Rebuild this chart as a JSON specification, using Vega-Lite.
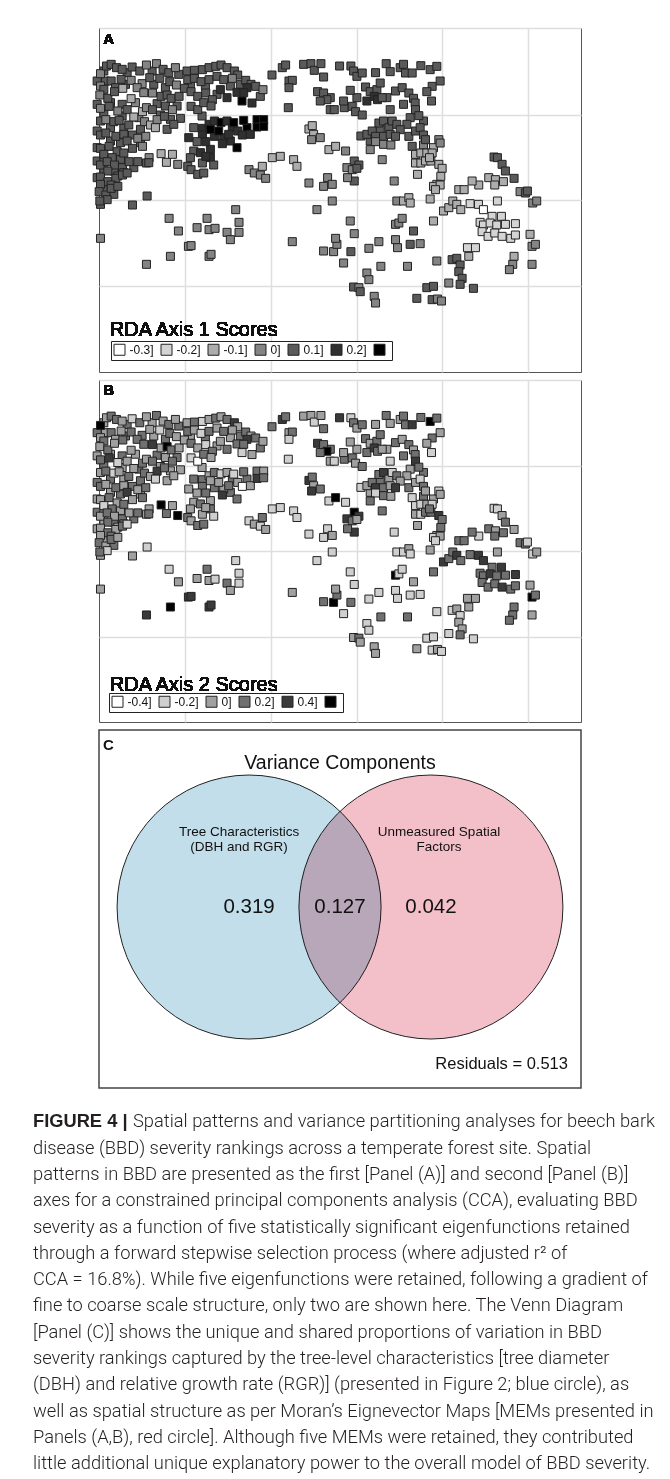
{
"$schema": "https://vega.github.io/schema/vega-lite/v6.json",
"background": "white",
"padding": {"left": 31, "top": 27, "right": 0, "bottom": 0},
"spacing": 8,
"center": true,
"bounds": "flush",
"resolve": {"scale": {"x": "independent", "y": "independent", "color": "independent", "fill": "independent"}, "legend": {"color": "independent"}},
"config": {"view": {"stroke": "#555", "strokeWidth": 1}, "font": "Liberation Sans"},
"datasets": {
"trees": [
{"x":20,"y":180,"a":0.1,"b":0.2},{"x":20,"y":250,"a":0.1,"b":0},{"x":20,"y":330,"a":0.1,"b":0.2},{"x":20,"y":380,"a":0.1,"b":0},{"x":20,"y":420,"a":0.1,"b":0.2},{"x":20,"y":470,"a":0.1,"b":0},
{"x":40,"y":150,"a":0.1,"b":0},{"x":110,"y":155,"a":0.1,"b":0.2},{"x":185,"y":150,"a":0.1,"b":0},{"x":265,"y":160,"a":0.1,"b":0.2},{"x":45,"y":180,"a":0.1,"b":0},{"x":105,"y":190,"a":0.1,"b":0.2},{"x":190,"y":190,"a":0.1,"b":0},{"x":225,"y":200,"a":0.1,"b":0.2},{"x":60,"y":245,"a":0.1,"b":0},{"x":95,"y":250,"a":0.1,"b":0.2},{"x":135,"y":245,"a":0,"b":0},{"x":200,"y":248,"a":0.1,"b":0.2},{"x":225,"y":255,"a":0.1,"b":0},{"x":260,"y":255,"a":0.1,"b":0.2},
{"x":40,"y":280,"a":0.1,"b":0.2},{"x":95,"y":285,"a":0.1,"b":0},{"x":145,"y":290,"a":0,"b":0.2},{"x":240,"y":295,"a":0.1,"b":0},{"x":60,"y":320,"a":0.1,"b":0.2},{"x":100,"y":320,"a":0.1,"b":0},{"x":150,"y":325,"a":0.1,"b":0.2},{"x":230,"y":325,"a":0.1,"b":0},{"x":60,"y":360,"a":0.1,"b":0},{"x":90,"y":365,"a":0.1,"b":0.2},{"x":150,"y":365,"a":0.1,"b":0},{"x":40,"y":415,"a":0.1,"b":0.2},{"x":90,"y":415,"a":0.1,"b":0},{"x":130,"y":440,"a":0.1,"b":0.2},{"x":40,"y":445,"a":0.1,"b":0},{"x":70,"y":450,"a":0.1,"b":0.2},{"x":40,"y":505,"a":0.1,"b":0},{"x":70,"y":520,"a":0.1,"b":0.2},
{"x":30,"y":158,"a":0,"b":0.6},{"x":48,"y":135,"a":0.1,"b":0},{"x":62,"y":130,"a":0.1,"b":0.2},{"x":78,"y":140,"a":0.1,"b":0.2},{"x":95,"y":145,"a":0.1,"b":0},{"x":125,"y":138,"a":0.1,"b":-0.2},{"x":148,"y":150,"a":0.1,"b":0.2},{"x":168,"y":132,"a":0,"b":0},{"x":198,"y":128,"a":0,"b":0.2},{"x":218,"y":145,"a":0.1,"b":0},{"x":235,"y":155,"a":0.1,"b":0.2},{"x":255,"y":140,"a":0,"b":0},
{"x":30,"y":195,"a":0,"b":0},{"x":62,"y":180,"a":0.1,"b":0.2},{"x":92,"y":175,"a":0.1,"b":0},{"x":122,"y":178,"a":0,"b":0.2},{"x":155,"y":188,"a":0,"b":0.2},{"x":178,"y":170,"a":0.1,"b":0},{"x":208,"y":172,"a":0.1,"b":-0.2},{"x":238,"y":182,"a":0.1,"b":0.2},{"x":258,"y":192,"a":0,"b":0},{"x":40,"y":205,"a":0.1,"b":0.2},{"x":75,"y":200,"a":0.1,"b":0},{"x":140,"y":200,"a":0,"b":0.2},
{"x":28,"y":222,"a":0,"b":0},{"x":52,"y":232,"a":0.1,"b":0.2},{"x":72,"y":212,"a":0.1,"b":0},{"x":97,"y":202,"a":-0.1,"b":0.2},{"x":122,"y":233,"a":-0.1,"b":0},{"x":160,"y":215,"a":0,"b":0.2},{"x":186,"y":216,"a":0,"b":0.4},{"x":212,"y":226,"a":0.1,"b":0},{"x":230,"y":222,"a":0.1,"b":0.6},{"x":242,"y":232,"a":0.1,"b":0.2},{"x":266,"y":226,"a":0.1,"b":0},
{"x":30,"y":262,"a":0,"b":0.2},{"x":56,"y":256,"a":0.1,"b":0.4},{"x":82,"y":270,"a":0,"b":-0.2},{"x":110,"y":266,"a":0.1,"b":0},{"x":156,"y":272,"a":-0.1,"b":0.2},{"x":168,"y":260,"a":0,"b":0},{"x":186,"y":266,"a":0.1,"b":0.2},{"x":210,"y":282,"a":0.1,"b":0},{"x":246,"y":266,"a":0,"b":0.2},{"x":270,"y":292,"a":0.1,"b":0},
{"x":30,"y":300,"a":0.1,"b":0},{"x":46,"y":296,"a":0,"b":0.2},{"x":70,"y":302,"a":0.1,"b":-0.2},{"x":86,"y":298,"a":0.1,"b":0},{"x":115,"y":312,"a":0.1,"b":0.2},{"x":130,"y":288,"a":-0.1,"b":0},{"x":162,"y":302,"a":0,"b":0.2},{"x":180,"y":312,"a":-0.1,"b":0},{"x":200,"y":296,"a":0,"b":0.4},{"x":222,"y":286,"a":0.1,"b":0.2},{"x":250,"y":310,"a":0.1,"b":0},{"x":195,"y":320,"a":-0.1,"b":-0.2},
{"x":30,"y":342,"a":0.1,"b":0.2},{"x":46,"y":336,"a":0.1,"b":0},{"x":76,"y":346,"a":0.1,"b":0.2},{"x":100,"y":340,"a":0.1,"b":0},{"x":126,"y":342,"a":0.1,"b":0.2},{"x":142,"y":352,"a":0,"b":0},{"x":166,"y":346,"a":0,"b":0.2},{"x":110,"y":360,"a":0.1,"b":0.4},
{"x":30,"y":382,"a":0.1,"b":0},{"x":56,"y":376,"a":0.1,"b":0.2},{"x":80,"y":392,"a":0.1,"b":0},{"x":100,"y":396,"a":0.1,"b":0.2},{"x":126,"y":382,"a":0.1,"b":0},{"x":156,"y":376,"a":0,"b":0.2},{"x":176,"y":410,"a":0,"b":0},{"x":40,"y":400,"a":0.1,"b":-0.2},{"x":65,"y":410,"a":0.1,"b":0.2},
{"x":30,"y":432,"a":0.1,"b":0},{"x":50,"y":422,"a":0.1,"b":0.2},{"x":72,"y":432,"a":0.1,"b":0},{"x":96,"y":440,"a":0.1,"b":0.2},{"x":116,"y":422,"a":0.1,"b":0},{"x":142,"y":422,"a":0.1,"b":0.2},{"x":168,"y":426,"a":0.1,"b":0},{"x":100,"y":455,"a":0.1,"b":0.2},{"x":82,"y":465,"a":0.1,"b":0},{"x":52,"y":450,"a":0.1,"b":0.2},
{"x":30,"y":468,"a":0.1,"b":0},{"x":52,"y":482,"a":0.1,"b":0.2},{"x":76,"y":472,"a":0.1,"b":0},{"x":96,"y":462,"a":0.1,"b":0.2},{"x":110,"y":456,"a":0.1,"b":-0.2},{"x":30,"y":490,"a":0.1,"b":0},{"x":62,"y":492,"a":0.1,"b":0.2},
{"x":26,"y":512,"a":0.1,"b":0.2},{"x":46,"y":522,"a":0.1,"b":0},{"x":62,"y":502,"a":0.1,"b":0.2},{"x":82,"y":496,"a":0.1,"b":0},{"x":30,"y":550,"a":0.1,"b":0},{"x":50,"y":536,"a":0.1,"b":-0.2},{"x":28,"y":540,"a":0.1,"b":0.2},
{"x":170,"y":525,"a":0.1,"b":-0.2},{"x":126,"y":552,"a":0.1,"b":0},{"x":30,"y":652,"a":0,"b":0},
{"x":212,"y":398,"a":-0.1,"b":0.6},{"x":228,"y":424,"a":-0.1,"b":0.2},{"x":246,"y":400,"a":-0.1,"b":0},{"x":262,"y":430,"a":0,"b":0.6},{"x":175,"y":425,"a":0.1,"b":0.2},
{"x":300,"y":190,"a":0.1,"b":0},{"x":345,"y":195,"a":0.1,"b":0.2},{"x":420,"y":195,"a":0.1,"b":0},{"x":450,"y":190,"a":0.1,"b":0.2},{"x":380,"y":220,"a":0.1,"b":0},{"x":410,"y":230,"a":0.2,"b":0.2},{"x":335,"y":285,"a":0.1,"b":0},{"x":470,"y":320,"a":0.3,"b":0.2},{"x":480,"y":340,"a":0.2,"b":0},{"x":310,"y":320,"a":0.1,"b":0.2},{"x":310,"y":390,"a":0.1,"b":0},{"x":330,"y":395,"a":0.2,"b":0.2},{"x":360,"y":385,"a":0.2,"b":0},{"x":420,"y":360,"a":0.2,"b":0.2},
{"x":290,"y":150,"a":0.1,"b":0},{"x":312,"y":148,"a":0.1,"b":0.2},{"x":336,"y":146,"a":0.1,"b":-0.2},{"x":356,"y":140,"a":0.1,"b":0},{"x":376,"y":136,"a":0.1,"b":0.2},{"x":392,"y":132,"a":0.1,"b":0},{"x":410,"y":140,"a":0.1,"b":0.2},{"x":432,"y":150,"a":0.1,"b":0.4},{"x":442,"y":162,"a":0.1,"b":0},
{"x":292,"y":176,"a":0.1,"b":0.2},{"x":312,"y":172,"a":0.1,"b":0},{"x":332,"y":182,"a":0.1,"b":-0.2},{"x":356,"y":176,"a":0.1,"b":0.2},{"x":380,"y":166,"a":0.1,"b":0},{"x":400,"y":176,"a":0.1,"b":0.2},{"x":426,"y":172,"a":0,"b":0},{"x":466,"y":178,"a":0.1,"b":0.2},{"x":482,"y":190,"a":0.1,"b":0},{"x":496,"y":196,"a":0.1,"b":0.2},
{"x":282,"y":202,"a":0.1,"b":0},{"x":302,"y":212,"a":0.1,"b":0.2},{"x":322,"y":226,"a":0.1,"b":0},{"x":346,"y":216,"a":0.1,"b":-0.2},{"x":366,"y":236,"a":0.1,"b":0.2},{"x":390,"y":206,"a":0.2,"b":0},{"x":440,"y":214,"a":0.2,"b":0.2},{"x":455,"y":240,"a":0.3,"b":-0.2},{"x":485,"y":246,"a":0.2,"b":0},{"x":510,"y":226,"a":0.1,"b":0.2},{"x":518,"y":206,"a":0,"b":0},
{"x":302,"y":256,"a":0.1,"b":-0.2},{"x":322,"y":266,"a":0.1,"b":-0.4},{"x":340,"y":245,"a":0.1,"b":0.2},{"x":362,"y":255,"a":0.1,"b":0},{"x":470,"y":200,"a":0.2,"b":0.4},{"x":460,"y":215,"a":0.2,"b":0.2},
{"x":295,"y":350,"a":0.2,"b":0},{"x":336,"y":322,"a":0.2,"b":0.2},{"x":356,"y":310,"a":0.2,"b":0},{"x":372,"y":300,"a":0.2,"b":0.2},{"x":392,"y":304,"a":0.3,"b":-0.2},{"x":410,"y":300,"a":0.2,"b":0},{"x":426,"y":320,"a":0.2,"b":0.2},{"x":442,"y":330,"a":0.2,"b":0},{"x":460,"y":298,"a":0.3,"b":0.2},{"x":456,"y":342,"a":0.2,"b":-0.4},
{"x":372,"y":346,"a":0.2,"b":0.2},{"x":400,"y":350,"a":0.2,"b":0},{"x":336,"y":342,"a":0.2,"b":0.2},{"x":320,"y":362,"a":0.1,"b":0},{"x":346,"y":362,"a":0.2,"b":0.2},{"x":396,"y":368,"a":0.2,"b":0.4},{"x":440,"y":380,"a":0.3,"b":0.2},{"x":500,"y":296,"a":0.3,"b":0.2},{"x":520,"y":296,"a":0.3,"b":0},{"x":500,"y":318,"a":0.3,"b":0.4},{"x":520,"y":316,"a":0.3,"b":0.2},
{"x":385,"y":330,"a":0.3,"b":0},{"x":415,"y":340,"a":0.2,"b":0.2},{"x":360,"y":325,"a":0.3,"b":0},{"x":430,"y":305,"a":0.3,"b":-0.2},
{"x":292,"y":436,"a":0.1,"b":0.2},{"x":302,"y":446,"a":0.1,"b":0},{"x":322,"y":460,"a":0.1,"b":0.2},{"x":336,"y":426,"a":0.1,"b":0},{"x":360,"y":410,"a":0.2,"b":0.2},{"x":370,"y":432,"a":0.1,"b":-0.2},{"x":346,"y":406,"a":0.2,"b":0},{"x":340,"y":456,"a":0.1,"b":0.2},{"x":300,"y":410,"a":0.1,"b":0},
{"x":476,"y":446,"a":0,"b":-0.2},{"x":492,"y":456,"a":0,"b":0},{"x":510,"y":462,"a":0,"b":-0.2},{"x":526,"y":472,"a":0,"b":0},{"x":516,"y":436,"a":-0.1,"b":0.2},{"x":546,"y":410,"a":-0.1,"b":-0.2},{"x":570,"y":406,"a":-0.1,"b":-0.2},{"x":610,"y":416,"a":-0.1,"b":-0.2},{"x":620,"y":436,"a":-0.1,"b":-0.2},
{"x":545,"y":162,"a":0.1,"b":0.2},{"x":576,"y":140,"a":0.1,"b":0.4},{"x":586,"y":132,"a":0.1,"b":0.2},{"x":596,"y":180,"a":0.1,"b":0},{"x":606,"y":178,"a":0.1,"b":0.2},{"x":596,"y":200,"a":0.1,"b":-0.2},{"x":594,"y":260,"a":0.1,"b":-0.2},
{"x":640,"y":130,"a":0.1,"b":0},{"x":720,"y":230,"a":0.1,"b":0.2},{"x":800,"y":230,"a":0.1,"b":0},{"x":830,"y":240,"a":0.2,"b":0.2},{"x":890,"y":230,"a":0.1,"b":0},{"x":940,"y":250,"a":0.1,"b":0.2},{"x":960,"y":290,"a":0.1,"b":0},{"x":1000,"y":300,"a":0.1,"b":0.2},{"x":950,"y":310,"a":0.1,"b":0},{"x":870,"y":325,"a":0.1,"b":0.2},{"x":840,"y":360,"a":0.1,"b":0},{"x":1000,"y":372,"a":0,"b":0.2},{"x":1030,"y":380,"a":-0.1,"b":0},
{"x":662,"y":128,"a":0.1,"b":0},{"x":672,"y":148,"a":0.1,"b":-0.2},{"x":692,"y":128,"a":0.1,"b":0},{"x":700,"y":168,"a":0.1,"b":0.2},{"x":748,"y":135,"a":0.1,"b":0.4},{"x":782,"y":135,"a":0.1,"b":-0.2},{"x":790,"y":150,"a":0.1,"b":0.2},{"x":800,"y":166,"a":0.1,"b":0},{"x":816,"y":156,"a":0.1,"b":0.2},{"x":856,"y":155,"a":0.1,"b":0},
{"x":888,"y":128,"a":0.1,"b":0.2},{"x":900,"y":152,"a":0.1,"b":0},{"x":930,"y":140,"a":0.1,"b":0},{"x":940,"y":130,"a":0.1,"b":0.2},{"x":946,"y":156,"a":0.1,"b":0.2},{"x":966,"y":156,"a":0.1,"b":0.4},{"x":992,"y":134,"a":0.1,"b":0.2},{"x":1020,"y":146,"a":0.1,"b":0.6},{"x":1040,"y":136,"a":0.1,"b":0.2},{"x":1050,"y":180,"a":0.1,"b":0},{"x":1026,"y":196,"a":0.1,"b":0.2},{"x":1010,"y":212,"a":0.1,"b":0},{"x":1024,"y":240,"a":0.1,"b":-0.2},
{"x":682,"y":212,"a":0.1,"b":0.4},{"x":700,"y":216,"a":0.1,"b":0.2},{"x":710,"y":236,"a":0.1,"b":0.6},{"x":690,"y":240,"a":0.1,"b":0.2},{"x":720,"y":266,"a":0.1,"b":0},{"x":732,"y":266,"a":0.1,"b":-0.2},{"x":762,"y":260,"a":0.1,"b":0.2},{"x":760,"y":240,"a":0.1,"b":0},{"x":786,"y":256,"a":0.1,"b":0.2},{"x":796,"y":272,"a":0.1,"b":0},{"x":816,"y":282,"a":0.1,"b":0.2},
{"x":780,"y":208,"a":0.1,"b":0},{"x":826,"y":198,"a":0.1,"b":0.2},{"x":840,"y":212,"a":0.1,"b":0},{"x":860,"y":206,"a":0.1,"b":0.2},{"x":870,"y":186,"a":0.1,"b":0.2},{"x":852,"y":226,"a":0.2,"b":0.4},{"x":862,"y":236,"a":0.2,"b":0.2},{"x":876,"y":230,"a":0.1,"b":0},{"x":900,"y":266,"a":0.1,"b":-0.2},{"x":916,"y":210,"a":0.1,"b":0.2},{"x":936,"y":200,"a":0.1,"b":0},{"x":956,"y":216,"a":0.1,"b":0.2},{"x":970,"y":232,"a":0.1,"b":0},{"x":975,"y":246,"a":0.1,"b":0.2},{"x":976,"y":266,"a":0.1,"b":0.4},{"x":986,"y":284,"a":0.1,"b":0.2},
{"x":656,"y":324,"a":-0.1,"b":0.4},{"x":666,"y":314,"a":-0.1,"b":0.2},{"x":670,"y":340,"a":-0.1,"b":0},{"x":690,"y":350,"a":0,"b":0.2},{"x":664,"y":356,"a":0,"b":0.4},
{"x":812,"y":345,"a":0.1,"b":-0.2},{"x":830,"y":340,"a":0.1,"b":0},{"x":846,"y":330,"a":0.1,"b":0.2},{"x":866,"y":306,"a":0.1,"b":0.2},{"x":880,"y":300,"a":0.1,"b":0.4},{"x":896,"y":320,"a":0.1,"b":0},{"x":906,"y":300,"a":0.1,"b":-0.2},{"x":920,"y":310,"a":0.1,"b":0.2},{"x":930,"y":326,"a":0.1,"b":0},{"x":856,"y":346,"a":0.1,"b":0.4},{"x":880,"y":346,"a":0.1,"b":0.2},{"x":900,"y":340,"a":0.1,"b":0},{"x":916,"y":346,"a":0.1,"b":0.4},
{"x":956,"y":346,"a":0.1,"b":0.2},{"x":976,"y":330,"a":0.1,"b":0},{"x":990,"y":320,"a":0.1,"b":-0.2},{"x":966,"y":376,"a":0.1,"b":-0.2},{"x":1000,"y":342,"a":0.1,"b":0.2},{"x":1006,"y":356,"a":0.1,"b":0},{"x":1046,"y":356,"a":0,"b":-0.2},{"x":1050,"y":366,"a":0,"b":0},{"x":856,"y":362,"a":0,"b":-0.2},{"x":880,"y":370,"a":0,"b":0.2},{"x":902,"y":372,"a":0,"b":0},
{"x":716,"y":386,"a":-0.1,"b":-0.2},{"x":736,"y":376,"a":-0.1,"b":0.6},{"x":766,"y":390,"a":0,"b":-0.2},{"x":840,"y":386,"a":0,"b":0.2},{"x":876,"y":416,"a":0,"b":0.2},{"x":792,"y":420,"a":0.1,"b":0.6},{"x":806,"y":432,"a":0.1,"b":0.4},{"x":770,"y":440,"a":0,"b":0.4},{"x":786,"y":446,"a":0,"b":0.2},{"x":800,"y":442,"a":0.1,"b":0},{"x":792,"y":480,"a":0.1,"b":0.4},{"x":772,"y":470,"a":0,"b":0.2},{"x":712,"y":470,"a":0,"b":-0.2},{"x":700,"y":496,"a":0,"b":-0.2},{"x":726,"y":490,"a":0,"b":0},{"x":656,"y":486,"a":0,"b":-0.2},
{"x":976,"y":400,"a":-0.1,"b":-0.2},{"x":992,"y":396,"a":-0.1,"b":-0.2},{"x":1010,"y":396,"a":-0.1,"b":0},{"x":1026,"y":396,"a":-0.1,"b":-0.2},{"x":976,"y":426,"a":-0.1,"b":0},{"x":992,"y":426,"a":-0.1,"b":-0.2},{"x":1006,"y":420,"a":-0.1,"b":0.2},{"x":1022,"y":420,"a":-0.1,"b":0.2},{"x":1018,"y":410,"a":-0.1,"b":0.2},{"x":1046,"y":430,"a":-0.1,"b":0.4},{"x":1056,"y":442,"a":-0.1,"b":0.2},{"x":982,"y":460,"a":-0.1,"b":0},{"x":1052,"y":466,"a":-0.1,"b":0.2},{"x":1040,"y":490,"a":-0.1,"b":0},{"x":1030,"y":496,"a":-0.1,"b":-0.2},{"x":1050,"y":492,"a":-0.1,"b":0},{"x":1036,"y":506,"a":-0.1,"b":-0.2},{"x":912,"y":480,"a":0,"b":-0.2},
{"x":920,"y":540,"a":0,"b":-0.2},{"x":940,"y":540,"a":-0.1,"b":-0.2},{"x":956,"y":530,"a":-0.1,"b":0},{"x":960,"y":546,"a":-0.1,"b":-0.2},{"x":1020,"y":534,"a":-0.1,"b":0},{"x":1060,"y":570,"a":-0.1,"b":0.4},{"x":1076,"y":560,"a":-0.1,"b":0.2},{"x":1088,"y":540,"a":-0.1,"b":0.2},{"x":1100,"y":550,"a":-0.1,"b":0.4},{"x":1112,"y":566,"a":-0.1,"b":0.2},{"x":1106,"y":506,"a":-0.1,"b":0.2},{"x":1122,"y":506,"a":-0.1,"b":0.2},{"x":1140,"y":548,"a":-0.2,"b":0.2},{"x":1165,"y":550,"a":-0.2,"b":0.4},{"x":1180,"y":566,"a":-0.3,"b":0.4},
{"x":680,"y":566,"a":0,"b":-0.2},{"x":726,"y":540,"a":0,"b":-0.2},{"x":780,"y":600,"a":0,"b":-0.2},{"x":792,"y":638,"a":0,"b":-0.2},{"x":916,"y":610,"a":0,"b":0.6},{"x":926,"y":606,"a":0,"b":-0.2},{"x":936,"y":592,"a":0,"b":-0.2},{"x":970,"y":630,"a":0.1,"b":0},{"x":1030,"y":600,"a":-0.1,"b":0.2},
{"x":700,"y":690,"a":0,"b":0.2},{"x":730,"y":692,"a":0,"b":0.6},{"x":740,"y":670,"a":0,"b":0.2},{"x":736,"y":652,"a":0,"b":0},{"x":760,"y":726,"a":0,"b":-0.2},{"x":782,"y":692,"a":0.1,"b":0.2},{"x":836,"y":682,"a":0,"b":-0.2},{"x":866,"y":662,"a":0,"b":-0.2},{"x":916,"y":656,"a":0,"b":-0.2},{"x":922,"y":680,"a":0,"b":-0.2},{"x":960,"y":670,"a":0.1,"b":-0.2},{"x":990,"y":668,"a":0,"b":-0.2},
{"x":830,"y":756,"a":0,"b":-0.2},{"x":836,"y":776,"a":0,"b":-0.2},{"x":790,"y":798,"a":0.1,"b":0},{"x":806,"y":800,"a":0,"b":0.2},{"x":810,"y":812,"a":0.1,"b":0},{"x":852,"y":826,"a":0,"b":0},{"x":856,"y":846,"a":0,"b":0},{"x":872,"y":736,"a":0,"b":0.2},{"x":952,"y":736,"a":0,"b":0.2},{"x":980,"y":832,"a":0.1,"b":0},
{"x":1026,"y":836,"a":0.1,"b":-0.2},{"x":1042,"y":834,"a":0,"b":0},{"x":1054,"y":840,"a":0,"b":-0.2},{"x":1010,"y":800,"a":0.1,"b":-0.2},{"x":1030,"y":796,"a":0.1,"b":-0.2},{"x":1040,"y":720,"a":0,"b":-0.2},{"x":1076,"y":786,"a":0,"b":-0.2},{"x":1086,"y":716,"a":0.1,"b":-0.2},{"x":1100,"y":712,"a":0.1,"b":0},{"x":1110,"y":732,"a":0.1,"b":-0.2},{"x":1106,"y":752,"a":0.1,"b":0},{"x":1116,"y":772,"a":0.1,"b":0},{"x":1110,"y":790,"a":0.1,"b":0.2},{"x":1150,"y":802,"a":0.1,"b":-0.2},{"x":1136,"y":706,"a":-0.1,"b":0},{"x":1156,"y":680,"a":-0.2,"b":0},
{"x":1196,"y":470,"a":-0.1,"b":0.2},{"x":1216,"y":476,"a":-0.1,"b":0},{"x":1214,"y":492,"a":-0.1,"b":0.2},{"x":1222,"y":540,"a":-0.2,"b":0},{"x":1240,"y":482,"a":-0.1,"b":0.2},{"x":1166,"y":492,"a":-0.1,"b":-0.2},{"x":1146,"y":480,"a":-0.1,"b":0.2},
{"x":1206,"y":586,"a":-0.2,"b":0.2},{"x":1234,"y":586,"a":-0.2,"b":0.4},{"x":1170,"y":604,"a":-0.2,"b":0.2},{"x":1180,"y":612,"a":-0.2,"b":0.2},{"x":1200,"y":606,"a":-0.2,"b":0.4},{"x":1220,"y":612,"a":-0.2,"b":0.2},{"x":1246,"y":610,"a":-0.2,"b":0.2},{"x":1276,"y":608,"a":-0.2,"b":0.4},{"x":1176,"y":632,"a":-0.2,"b":0.2},{"x":1194,"y":646,"a":-0.2,"b":0.2},{"x":1214,"y":636,"a":-0.2,"b":0.2},{"x":1236,"y":646,"a":-0.2,"b":0.4},{"x":1262,"y":652,"a":-0.2,"b":0.2},{"x":1276,"y":642,"a":-0.2,"b":0.2},{"x":1320,"y":640,"a":-0.1,"b":0},
{"x":1212,"y":408,"a":0.1,"b":-0.2},{"x":1222,"y":410,"a":0.1,"b":-0.2},{"x":1236,"y":430,"a":0.1,"b":0},{"x":1246,"y":450,"a":0.1,"b":0.2},{"x":1272,"y":472,"a":0.1,"b":0},{"x":1290,"y":512,"a":0,"b":0.2},{"x":1306,"y":516,"a":0.1,"b":0.2},{"x":1312,"y":510,"a":0.1,"b":-0.2},{"x":1328,"y":546,"a":0,"b":-0.2},{"x":1340,"y":540,"a":0,"b":0},{"x":1326,"y":676,"a":0,"b":0.6},{"x":1336,"y":670,"a":0,"b":0.2},{"x":1272,"y":706,"a":-0.1,"b":0.2},{"x":1268,"y":730,"a":0,"b":0.2},{"x":1258,"y":746,"a":0,"b":0.2},{"x":1326,"y":730,"a":0,"b":0},{"x":1132,"y":680,"a":-0.2,"b":0},
{"x":236,"y":592,"a":0,"b":-0.2},{"x":264,"y":630,"a":0,"b":0},{"x":294,"y":676,"a":0,"b":0.4},{"x":302,"y":674,"a":0,"b":0.4},{"x":320,"y":620,"a":0,"b":0},{"x":350,"y":592,"a":0,"b":0.2},{"x":356,"y":626,"a":0,"b":0},{"x":374,"y":622,"a":0,"b":-0.2},{"x":410,"y":634,"a":0,"b":0.2},{"x":420,"y":656,"a":0,"b":0},{"x":436,"y":566,"a":0,"b":-0.2},{"x":446,"y":604,"a":0,"b":-0.2},{"x":446,"y":634,"a":0,"b":-0.2},{"x":240,"y":706,"a":0,"b":0.6},{"x":356,"y":706,"a":0,"b":0.4},{"x":362,"y":700,"a":0,"b":0.4},{"x":168,"y":730,"a":0,"b":0.4},{"x":606,"y":662,"a":0,"b":0}
],
"venn": [
{"set": "Tree Characteristics (DBH and RGR)", "cx": -0.689, "cy": 0, "share": 0.319},
{"set": "Unmeasured Spatial Factors", "cx": 0.689, "cy": 0, "share": 0.042}
],
"vennText": [
{"t": "Tree Characteristics", "x": -0.765, "y": 0.568},
{"t": "(DBH and RGR)", "x": -0.765, "y": 0.455},
{"t": "Unmeasured Spatial", "x": 0.75, "y": 0.568},
{"t": "Factors", "x": 0.75, "y": 0.455}
],
"vennValues": [
{"t": "0.319", "x": -0.689, "y": 0},
{"t": "0.127", "x": 0, "y": 0},
{"t": "0.042", "x": 0.689, "y": 0}
],
"caption": [
{"line": 1, "text": "Spatial patterns and variance partitioning analyses for beech bark"},
{"line": 2, "text": "disease (BBD) severity rankings across a temperate forest site. Spatial"},
{"line": 3, "text": "patterns in BBD are presented as the first [Panel (A)] and second [Panel (B)]"},
{"line": 4, "text": "axes for a constrained principal components analysis (CCA), evaluating BBD"},
{"line": 5, "text": "severity as a function of five statistically significant eigenfunctions retained"},
{"line": 6, "text": "through a forward stepwise selection process (where adjusted r² of"},
{"line": 7, "text": "CCA = 16.8%). While five eigenfunctions were retained, following a gradient of"},
{"line": 8, "text": "fine to coarse scale structure, only two are shown here. The Venn Diagram"},
{"line": 9, "text": "[Panel (C)] shows the unique and shared proportions of variation in BBD"},
{"line": 10, "text": "severity rankings captured by the tree-level characteristics [tree diameter"},
{"line": 11, "text": "(DBH) and relative growth rate (RGR)] (presented in Figure 2; blue circle), as"},
{"line": 12, "text": "well as spatial structure as per Moran’s Eignevector Maps [MEMs presented in"},
{"line": 13, "text": "Panels (A,B), red circle]. Although five MEMs were retained, they contributed"},
{"line": 14, "text": "little additional unique explanatory power to the overall model of BBD severity."}
]
},
"vconcat": [
{
"width": 482, "height": 344,
"data": {"name": "trees"},
"layer": [
{"mark": {"type": "square", "size": 64, "stroke": "#222", "strokeWidth": 1, "opacity": 1},
 "encoding": {
  "x": {"field": "x", "type": "quantitative", "scale": {"domain": [25.5, 1473], "nice": false, "zero": false}, "axis": {"values": [284, 541, 799, 1057, 1314], "labels": false, "ticks": false, "domain": false, "title": null, "grid": true, "gridColor": "#dedede", "gridWidth": 1.5}},
  "y": {"field": "y", "type": "quantitative", "scale": {"domain": [21, 1053], "reverse": true, "nice": false, "zero": false}, "axis": {"values": [21, 282, 538, 795], "labels": false, "ticks": false, "domain": false, "title": null, "grid": true, "gridColor": "#dedede", "gridWidth": 1.5}},
  "color": {"field": "a", "type": "ordinal", "scale": {"domain": [-0.3, -0.2, -0.1, 0, 0.1, 0.2, 0.3], "range": ["#ffffff", "#d4d4d4", "#acacac", "#848484", "#5a5a5a", "#303030", "#000000"]},
   "legend": {"title": null, "orient": "bottom-left", "offset": 12, "direction": "horizontal", "symbolType": "square", "symbolSize": 121, "symbolStrokeColor": "#222", "symbolStrokeWidth": 1, "symbolOpacity": 1, "labelFont": "Liberation Sans", "labelFontSize": 12, "labelColor": "#111", "labelOffset": 4, "columnPadding": 4, "padding": 2.5, "strokeColor": "#222", "fillColor": "#ffffff", "labelExpr": "datum.value > 0.25 ? '' : datum.label + ']'"}}
 }},
{"mark": {"type": "text", "align": "left", "baseline": "middle", "fontSize": 20, "color": "#111"},
 "encoding": {"x": {"datum": 58}, "y": {"datum": 926}, "text": {"value": "RDA Axis 1 Scores"}}},
{"mark": {"type": "text", "align": "left", "baseline": "middle", "fontSize": 15, "fontWeight": "bold", "color": "#111"},
 "encoding": {"x": {"datum": 38}, "y": {"datum": 55}, "text": {"value": "A"}}}
]
},
{
"width": 482, "height": 342,
"data": {"name": "trees"},
"layer": [
{"mark": {"type": "square", "size": 64, "stroke": "#222", "strokeWidth": 1, "opacity": 1},
 "encoding": {
  "x": {"field": "x", "type": "quantitative", "scale": {"domain": [25.5, 1473], "nice": false, "zero": false}, "axis": {"values": [284, 541, 799, 1057, 1314], "labels": false, "ticks": false, "domain": false, "title": null, "grid": true, "gridColor": "#dedede", "gridWidth": 1.5}},
  "y": {"field": "y", "type": "quantitative", "scale": {"domain": [21, 1053], "reverse": true, "nice": false, "zero": false}, "axis": {"values": [21, 282, 538, 795], "labels": false, "ticks": false, "domain": false, "title": null, "grid": true, "gridColor": "#dedede", "gridWidth": 1.5}},
  "color": {"field": "b", "type": "ordinal", "scale": {"domain": [-0.4, -0.2, 0, 0.2, 0.4, 0.6], "range": ["#ffffff", "#cfcfcf", "#a0a0a0", "#707070", "#3a3a3a", "#000000"]},
   "legend": {"title": null, "orient": "bottom-left", "offset": 10, "direction": "horizontal", "symbolType": "square", "symbolSize": 121, "symbolStrokeColor": "#222", "symbolStrokeWidth": 1, "symbolOpacity": 1, "labelFont": "Liberation Sans", "labelFontSize": 12, "labelColor": "#111", "labelOffset": 4, "columnPadding": 4, "padding": 2.5, "strokeColor": "#222", "fillColor": "#ffffff", "labelExpr": "datum.value > 0.5 ? '' : datum.label + ']'"}}
 }},
{"mark": {"type": "text", "align": "left", "baseline": "middle", "fontSize": 20, "color": "#111"},
 "encoding": {"x": {"datum": 58}, "y": {"datum": 942}, "text": {"value": "RDA Axis 2 Scores"}}},
{"mark": {"type": "text", "align": "left", "baseline": "middle", "fontSize": 15, "fontWeight": "bold", "color": "#111"},
 "encoding": {"x": {"datum": 38}, "y": {"datum": 50}, "text": {"value": "B"}}}
]
},
{
"width": 482, "height": 358,
"view": {"stroke": "#444", "strokeWidth": 1.5},
"encoding": {
 "x": {"type": "quantitative", "scale": {"domain": [-1.826, 1.826], "nice": false, "zero": false}, "axis": null},
 "y": {"type": "quantitative", "scale": {"domain": [-1.371, 1.341], "nice": false, "zero": false}, "axis": null}
},
"layer": [
{"data": {"name": "venn"},
 "mark": {"type": "point", "shape": "circle", "filled": true, "size": 69696, "stroke": "#222", "strokeWidth": 1, "opacity": 1, "blend": "multiply"},
 "encoding": {"x": {"field": "cx", "type": "quantitative"}, "y": {"field": "cy", "type": "quantitative"},
  "fill": {"field": "set", "type": "nominal", "scale": {"domain": ["Tree Characteristics (DBH and RGR)", "Unmeasured Spatial Factors"], "range": ["#c1deea", "#f3c0ca"]}, "legend": null}}},
{"data": {"name": "vennText"},
 "mark": {"type": "text", "align": "center", "baseline": "middle", "fontSize": 13.5, "color": "#111"},
 "encoding": {"x": {"field": "x", "type": "quantitative"}, "y": {"field": "y", "type": "quantitative"}, "text": {"field": "t"}}},
{"data": {"name": "vennValues"},
 "mark": {"type": "text", "align": "center", "baseline": "middle", "fontSize": 20.5, "color": "#111"},
 "encoding": {"x": {"field": "x", "type": "quantitative"}, "y": {"field": "y", "type": "quantitative"}, "text": {"field": "t"}}},
{"data": {"values": [{}]},
 "mark": {"type": "text", "align": "center", "baseline": "middle", "fontSize": 19.5, "color": "#111"},
 "encoding": {"x": {"datum": 0}, "y": {"datum": 1.09}, "text": {"value": "Variance Components"}}},
{"data": {"values": [{}]},
 "mark": {"type": "text", "align": "right", "baseline": "middle", "fontSize": 16.5, "color": "#111"},
 "encoding": {"x": {"datum": 1.727}, "y": {"datum": -1.19}, "text": {"value": "Residuals = 0.513"}}},
{"data": {"values": [{}]},
 "mark": {"type": "text", "align": "left", "baseline": "middle", "fontSize": 15, "fontWeight": "bold", "color": "#111"},
 "encoding": {"x": {"datum": -1.795}, "y": {"datum": 1.227}, "text": {"value": "C"}}}
]
},
{
"width": 618, "height": 384,
"view": {"stroke": null},
"data": {"name": "caption"},
"encoding": {
 "x": {"value": 2},
 "y": {"field": "line", "type": "quantitative", "scale": {"domain": [0, 14.6], "reverse": true, "nice": false, "zero": false}, "axis": null}
},
"layer": [
{"transform": [{"filter": "datum.line > 1"}],
 "mark": {"type": "text", "align": "left", "baseline": "middle", "font": "Roboto", "fontWeight": 300, "fontSize": 18.3, "color": "#231f20"},
 "encoding": {"text": {"field": "text"}}},
{"transform": [{"filter": "datum.line == 1"}],
 "mark": {"type": "text", "align": "left", "baseline": "middle", "font": "Roboto", "fontWeight": 300, "fontSize": 18.3, "color": "#231f20", "dx": 100},
 "encoding": {"text": {"field": "text"}}},
{"transform": [{"filter": "datum.line == 1"}],
 "mark": {"type": "text", "align": "left", "baseline": "middle", "font": "Liberation Sans", "fontWeight": "bold", "fontSize": 18.3, "color": "#231f20"},
 "encoding": {"text": {"value": "FIGURE 4 |"}}}
]
}
]
}
